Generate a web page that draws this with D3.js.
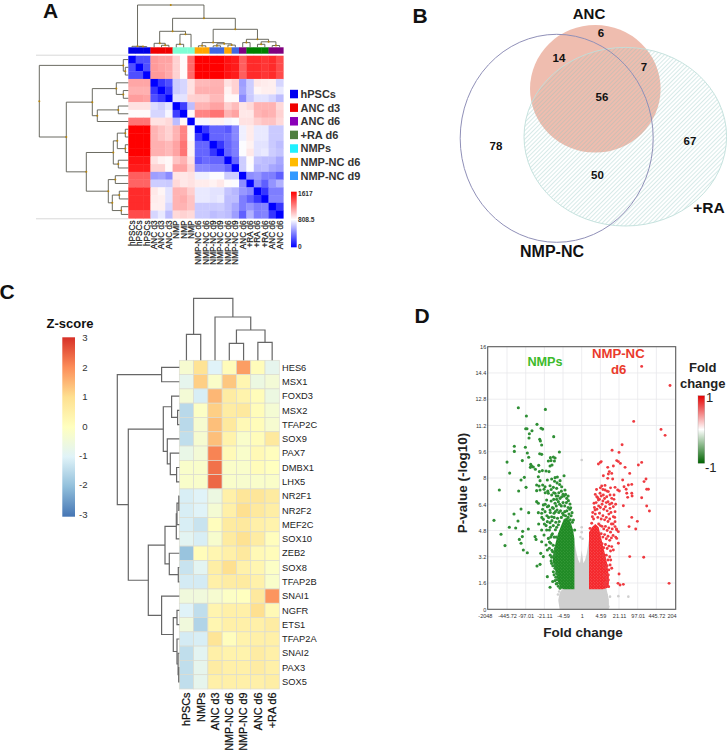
<!DOCTYPE html>
<html><head><meta charset="utf-8">
<script src="https://cdn.jsdelivr.net/npm/d3@7"></script>
<style>
html,body{margin:0;padding:0;background:#fff}
svg{display:block;font-family:"Liberation Sans",Arial,sans-serif}
</style></head><body><div id="c"></div>
<script>
// ---------- Panel A data ----------
const aLabels=["hPSCs","hPSCs","hPSCs","ANC d3","ANC d3","ANC d3","NMP","NMP","NMP","NMP-NC d6","NMP-NC d6","NMP-NC d9","NMP-NC d9","NMP-NC d6","NMP-NC d9","ANC d6","+RA d6","+RA d6","+RA d6","ANC d6","ANC d6"];
const aGroupOfCol=["hPSCs","hPSCs","hPSCs","ANC d3","ANC d3","ANC d3","NMP","NMP","NMP","oNC","oNC","bNC","bNC","oNC","bNC","A6","RA","RA","RA","A6","A6"];
const aBarColors={hPSCs:"#0000e6","ANC d3":"#f00000",NMP:"#7fffd4",oNC:"#ffa500",bNC:"#4169e1",A6:"#800080",RA:"#008000"};
const aMatrix=[
[0,250,250,1130,1100,1100,950,820,1280,1617,1617,1617,1617,1560,1530,1320,1480,1480,1450,1480,1380],
[250,0,250,1130,1100,1080,950,820,1280,1617,1617,1617,1617,1560,1530,1320,1480,1480,1450,1480,1380],
[250,250,0,1130,1130,1080,950,820,1280,1617,1617,1617,1617,1560,1530,1320,1480,1480,1450,1480,1380],
[1090,1090,1090,0,170,250,650,680,900,1030,1030,1050,1050,900,950,500,650,880,870,860,680],
[1060,1060,1060,170,0,170,650,680,900,1060,1060,1060,1060,850,950,520,650,840,860,860,740],
[1120,1120,1100,250,170,0,720,720,950,960,960,1030,1030,830,830,440,640,720,720,680,600],
[900,900,900,700,660,730,0,200,600,1050,1050,1100,1100,960,1020,890,930,1050,1050,1050,930],
[820,820,820,680,680,780,200,0,830,1200,1200,1250,1250,1050,1100,880,880,1040,1070,1050,950],
[1250,1250,1250,900,900,930,600,830,0,780,780,850,850,780,800,900,900,960,1000,1000,930],
[1617,1617,1617,1050,1000,950,1050,1200,800,0,170,320,320,280,430,760,870,740,740,640,640],
[1617,1617,1617,1050,1000,950,1050,1200,800,170,0,320,320,340,430,760,870,740,740,640,640],
[1617,1617,1617,1060,1060,1030,1100,1250,850,320,320,0,170,320,400,800,850,720,720,640,600],
[1617,1617,1617,1060,1060,1030,1100,1250,850,320,320,170,0,320,400,800,880,720,740,650,620],
[1560,1560,1560,900,850,830,1000,1050,900,280,340,320,320,0,320,650,820,620,600,600,530],
[1530,1530,1530,950,950,830,1100,1100,950,430,430,400,400,320,0,650,800,580,600,530,500],
[1320,1320,1320,500,520,440,890,880,900,760,760,800,800,650,650,0,450,480,400,400,300],
[1300,1300,1300,650,650,640,930,880,900,870,870,850,880,820,800,450,0,430,300,470,560],
[1480,1480,1480,880,840,720,1050,1040,960,740,740,720,720,620,580,480,430,0,170,400,400],
[1480,1480,1480,870,860,720,1050,1070,1000,740,740,720,740,600,600,400,300,170,0,420,420],
[1480,1480,1480,860,860,680,1050,1050,1000,640,640,640,650,600,530,400,470,400,420,0,170],
[1380,1380,1380,680,740,600,930,950,930,640,640,600,620,600,500,300,560,400,420,170,0]];
// dendrograms: [mergeHeight, childA, childB]; integers are leaf indices
const aTopTree=[42.3,[1,0,[.7,1,2]],[29,[16,[4,3,[2,4,5]],[13,[3,6,7],8]],[18,[4.7,[1.5,9,10],[3.5,[1.5,11,12],[2.2,13,14]]],[8,[4.7,15,16],[5.5,[3,17,18],[1.8,19,20]]]]]];
const aLeftTree=[89,[5,0,[3,1,2]],[62,[36,[12,3,[5,4,5]],[31,[10,6,7],8]],[42,[15,[11,[3,9,10],[3,11,12]],[10,13,14]],[20,[13,15,16],[16,[9,17,18],[7,19,20]]]]]];
const aLegendNames=["hPSCs","ANC d3","ANC d6","+RA d6","NMPs","NMP-NC d6","NMP-NC d9"];
const aLegendColors=["#0000f0","#f00000","#8a00b8","#4f7f3f","#1ff0ff","#ffbb00","#3399ff"];
const aScaleTicks=[1617,808.5,0];

// ---------- Panel B data ----------
const vennNames=["ANC","+RA","NMP-NC"];
const vennCounts=["6","14","7","56","78","67","50"];

// ---------- Panel C data ----------
const cCols=["hPSCs","NMPs","ANC d3","NMP-NC d6","NMP-NC d9","ANC d6","+RA d6"];
const cRows=["HES6","MSX1","FOXD3","MSX2","TFAP2C","SOX9","PAX7","DMBX1","LHX5","NR2F1","NR2F2","MEF2C","SOX10","ZEB2","SOX8","TFAP2B","SNAI1","NGFR","ETS1","TFAP2A","SNAI2","PAX3","SOX5"];
const cValues=[
[-.3,.9,-1,.1,1.8,.1,-.8],
[-.8,1.2,-.15,1.3,.3,-.6,-.4],
[-.4,-1.1,1.5,.6,.4,.1,-.6],
[-1.5,-.1,1.2,.6,.7,.1,-.35],
[-1.5,-.3,1.4,.7,.2,.1,-.3],
[-1.4,-.3,1.4,.4,-.2,.1,.7],
[-.7,-.4,2.1,.15,-.2,.2,.05],
[-.2,-.2,2.3,-.15,-.2,.1,0],
[-.2,-.2,2.4,-.2,-.25,-.2,-.15],
[-1.1,-1,-.6,.5,.8,.8,.65],
[-1.1,-1,-.35,.5,1,.7,.55],
[-1.1,-1.3,.05,.65,.7,.5,.4],
[-.9,-1.1,-.25,.65,.95,.6,.05],
[-1.9,.1,.3,.5,.7,.2,.1],
[-1.3,-.9,.55,1,.45,.3,-.1],
[-1.15,-1.15,.5,.6,.65,.45,-.2],
[-.5,-.5,-.3,-.1,0,.7,1.9],
[-1,-1.4,.35,.5,.5,1,.2],
[-.5,-1.6,.3,.5,.5,.5,.6],
[-1.15,-1.1,.85,.05,.4,.5,.5],
[-1.4,-.9,.5,.4,.4,.6,.5],
[-1.4,-.8,.6,.5,.5,.6,.5],
[-1.4,-.8,.5,.5,.5,.5,.55]];
const cTopTree=[62,[26,0,1],[43.3,2,[30.3,[17,3,4],[18,5,6]]]];
const cLeftTree=[62,[17.7,0,1],[51,[16,[7.7,2,[1.7,3,4]],[12,5,[9,6,[2.7,7,8]]]],[31,[14.3,[3,[2.3,[.5,9,10],11],12],[10,13,[1,14,15]]],[17.7,16,[6,[2.3,17,18],[2.3,19,[1.2,20,[.6,21,22]]]]]]]];
const zTicks=[3,2,1,0,-1,-2,-3];
const zColors=["#4575b4","#91bfdb","#e0f3f8","#ffffbf","#fee090","#fc8d59","#d73027"];

// ---------- Panel D data: [log2 fold change, -log10 p] ----------
const fcTickValues=[-11,-8.8,-6.6,-4.4,-2.2,0,2.2,4.4,6.6,8.8,11];
const fcTickLabels=["-2048","-445.72","-97.01","-21.11","-4.59","1","4.59","21.11","97.01","445.72","204"];
const pTicks=[0,1.6,3.2,4.8,6.4,8,9.6,11.2,12.8,14.4,16];
const greenPoints=[[-7.47,12.28],[-4.28,12.18],[-6.52,11.78],[-5.27,11.27],[-4.79,11.03],[-4.6,10.98],[-6.6,11],[-6.45,11],[-5.86,10.88],[-6.17,10.7],[-4.95,10.36],[-4.87,10.25],[-3.3,10.52],[-6.21,10.44],[-7.94,9.93],[-7.94,9.62],[-6.64,9.87],[-6.41,9.52],[-4.72,10.01],[-2.63,9.58],[-4.95,9.48],[-4.72,9.44],[-6.25,9.26],[-7,9.06],[-8.8,8.97],[-8.49,8.3],[-3.69,9.24],[-3.34,9.28],[-3.14,9.22],[-3.62,9.06],[-3.22,9.04],[-3.93,9.04],[-3.5,8.79],[-3.73,8.73],[-6.01,8.83],[-5.9,8.73],[-5.7,8.67],[-5.46,8.53],[-6.05,8.65],[-5.07,8.77],[-4.99,8.39],[-4.64,8.45],[-4.2,8.43],[-3.85,8.39],[-2.08,8.14],[-6.76,8.04],[-7.15,7.88],[-6.56,7.43],[-7.43,7.21],[-9.71,7.27],[-5.11,8.08],[-3.14,8.02],[-2.87,8.06],[-3.54,7.94],[-4.05,7.88],[-2.55,7.84],[-4.91,7.84],[-5.31,7.57],[-5.03,7.51],[-4.6,7.57],[-4.32,7.47],[-5.31,7.23],[-4.91,7.27],[-4.44,7.31],[-3.73,7.53],[-3.34,7.43],[-2.95,7.37],[-2.36,7.47],[-3.93,7.07],[-3.54,6.96],[-3.14,7.07],[-1.97,7.27],[-5.31,6.56],[-5.11,6.46],[-4.13,6.66],[-4.52,6.36],[-7.15,6.11],[-7.98,5.81],[-6.25,5.89],[-5.11,5.89],[-4.72,5.85],[-4.32,5.95],[-4.05,6.25],[-3.73,6.05],[-10.34,5.42],[-7.51,5.38],[-8.53,5],[-7.78,4.95],[-6.29,4.89],[-9.51,4.57],[-6.96,4.75],[-5.07,5.2],[-4.52,5.48],[-4.05,5.34],[-5.5,4.43],[-5.38,4.26],[-4.72,4.83],[-4.44,4.53],[-4.13,4.83],[-3.93,4.32],[-7.35,4.26],[-7,4.43],[-7.15,4.02],[-9.04,3.88],[-6.88,3.61],[-6.41,3.45],[-4.72,4.12],[-4.2,3.92],[-4.83,3.41],[-4.52,3.21],[-4.91,2.74],[-5.27,2.64],[-4.05,3.61],[-4.05,1.99],[-3.73,1.34],[-3.42,1.69],[-3.14,1.75],[-3.54,2.8],[-3.34,2.29],[-3.14,6.46],[-2.95,6.7],[-2.75,6.56],[-2.55,6.76],[-2.36,6.86],[-2.08,6.9],[-1.77,6.76],[-1.57,6.62],[-1.38,6.42],[-1.3,6.19],[-1.14,5.89],[-.98,5.44],[-.83,4.83],[-3.34,6.15],[-3.54,5.64],[-3.73,5.28],[-3.26,5.85],[-3.81,4.83],[-3.54,4.53],[-3.65,4.02],[-3.42,3.51],[-3.81,3.72],[-3.54,3.17],[-3.14,2.7],[-2.95,2.19],[-2.87,1.58],[-2.55,1.28],
[-3.9,6.3],[-3.6,6.6],[-3.3,6.7],[-3,6.3],[-2.8,6.9],[-2.6,6.4],[-2.4,6.3],[-2.2,6.5],[-2,6.3],[-1.8,6.5],[-1.6,6.2],[-1.4,6.1],[-3.7,5.9],[-3.45,6.2],[-3.1,5.95],[-2.9,6.05],[-2.7,5.9],[-2.5,6],[-2.25,5.85],[-2,5.95],[-1.75,6],[-1.5,5.8],[-1.25,5.7],[-3.9,5.6],[-3.5,5.4],[-3.25,5.6],[-3.05,5.3],[-2.85,5.55],[-2.65,5.35],[-2.4,5.6],[-2.15,5.75],[-1.9,5.7],[-1.6,5.6],[-1.35,5.45],[-1.1,5.3],[-4.2,5.1],[-3.7,5],[-3.35,5.1],[-3.1,4.85],[-2.95,5],[-2.75,5.15],[-3.45,4.6],[-3.25,4.4],[-3.65,4.4],[-3,4.4],[-3.8,4.1],[-3.35,3.9],[-3.1,3.7],[-3.5,3.6],[-3.7,3.3],[-3.3,3.25],[-3.15,3.4],[-3.6,2.95],[-3.4,2.65],[-3.15,2.5],[-3.25,2.1],[-3.05,1.95],[-3,1.55],[-2.9,1.8],[-2.75,1.4],[-4.6,6.1],[-4.3,6.4],[-4.1,5.7],[-4.4,5.2],[-4.7,5.6],[-3.3,7.1],[-3,6.9],[-2.7,7.1],[-2.4,7.2],[-2.2,7],[-1.9,7],[-2.9,7.7],[-3.2,7.8],[-2.6,7.6],[-3.6,7.3],[-4,7.2],[-4.3,7.1],[-1.6,6.9]];
const redPoints=[[7.07,14.8],[10.41,13.64],[6.13,11.45],[9.35,10.96],[9.83,10.6],[4.76,10.03],[3.58,9.69],[4.4,9.56],[2.2,8.95],[1.97,8.85],[2.3,9],[4.13,9.06],[4.32,9],[4.56,8.89],[7.07,8.95],[6.68,8.79],[5.11,8.65],[3.73,8.73],[3.07,8.65],[3.26,8.39],[3.54,8.28],[3.14,8.24],[2.55,8.14],[3.07,7.98],[3.65,7.94],[5.66,8.28],[4.83,7.88],[7.58,7.94],[5.5,7.57],[5.9,7.61],[4.99,7.47],[5.24,7.31],[5.9,7.07],[5.94,6.9],[5.31,7.07],[5.42,6.82],[7.07,6.8],[7.66,7.31],[7.86,7.31],[7.35,7.78],[2.36,7.51],[2.75,7.55],[3.93,7.43],[4.24,7.27],[4.44,7.21],[3.81,6.96],[4.91,6.31],[7.66,6.29],[7.98,5.99],[5.9,5.6],[6.56,5.36],[5.58,5.04],[6.37,4.89],[5.66,3.21],[7.31,3.17],[10.3,1.58],[4.4,2.15],[4.28,1.58],[4.52,1.48],[4.91,1.52],[3.18,1.38],[2.75,1.48],[4.13,4.32],[4.32,4.73],[4.13,4.83],[3.93,5.04],[4.32,4.02],[3.73,3.61],[3.54,3.82],[3.42,3],[3.54,2.5],[3.14,2.09],[3.14,1.79],[3.73,5.64],[3.93,5.34],[3.73,6.25],[3.93,5.95],[3.54,6.46],[3.34,6.15],[2.75,7.27],[3.14,7.17],[3.34,6.96],[3.54,6.76],[1.77,6.86],[1.45,6.46],[2.16,7.07],[2.55,6.96],[2.95,6.86],[1.97,6.66],[1.57,6.05],[1.26,5.64],[1.18,5.24],[.98,4.93],
[1.3,5.9],[1.5,6.2],[1.7,6.5],[1.9,6.8],[2.1,6.7],[2.3,6.9],[2.5,6.6],[2.7,6.75],[2.9,6.5],[3.1,6.55],[3.3,6.4],[1.4,5.5],[1.6,5.8],[1.8,6.1],[2,6.3],[2.2,6.2],[2.4,6.4],[2.6,6.1],[2.8,6.25],[3,6],[3.2,5.8],[3.45,5.9],[1.9,5.6],[2.1,5.85],[2.3,5.5],[2.5,5.7],[2.7,5.45],[2.9,5.6],[3.1,5.35],[3.3,5.5],[3.5,5.2],[2,5.2],[2.2,5.1],[2.4,5.05],[2.6,4.9],[2.8,5.05],[3,4.8],[3.2,4.95],[3.4,4.7],[3.6,4.9],[2.3,4.6],[2.5,4.4],[2.7,4.55],[2.9,4.3],[3.1,4.45],[3.3,4.2],[3.5,4.35],[3.7,4.5],[2.4,4],[2.6,3.75],[2.8,3.95],[3,3.7],[3.2,3.85],[3.4,3.55],[2.5,3.3],[2.7,3.1],[2.9,3.3],[3.1,3],[3.3,3.2],[2.6,2.7],[2.8,2.5],[3,2.65],[3.2,2.4],[2.65,2.1],[2.85,1.9],[3.05,1.7],[2.7,1.6],[2.9,1.45],[3.35,2.7],[2.5,7.3],[2.2,7.4],[3,7.2],[3.4,7.4],[1.6,7],[1.75,7.3],[3.8,6.7],[4,6.4],[3.9,5.6],[3.7,5.2],[4.1,4.9],[4,4.4]];
const greyPoints=[[0,9.1],[0,5],[0,4.7],[-.15,4.4],[.1,4.3],[5.5,.77],[2.75,.87],[4.32,.8],[-2.45,.25],[-2.2,.47],[-2.66,1.08],[2.55,1.08],[2.95,.87],[3.14,.16],[3.34,.77],[3,.35],[-2.8,.9],[-2.5,.7]];
// outlines of the solid dense clouds: [log2FC, low, high]
const greenCloud=[[-3.4,2.9,3.2],[-3.1,2.3,4],[-2.8,1.7,4.6],[-2.5,1.3,5],[-2.1,1.22,5.5],[-1.7,1.22,5.6],[-1.3,1.22,5.3],[-1,1.22,4.8],[-.86,1.22,4.3]];
const redCloud=[[.86,1.22,4.7],[1.2,1.22,5],[1.6,1.22,5.2],[2,1.22,5],[2.5,1.22,3.9],[3,1.3,2.8],[3.2,1.4,2]];
const greyCloud=[[-2.75,.5,.6],[-2.6,0,1],[-2.2,0,1.3],[-.9,0,4.2],[-.6,0,3.4],[-.4,0,3],[-.2,0,2.8],[0,0,3.6],[.2,0,2.8],[.4,0,3],[.6,0,3.4],[.9,0,4.4],[2.9,0,1.3],[3.2,0,.6]];

// ---------- drawing ----------
const W=727,H=752;
const svg=d3.select("#c").append("svg").attr("width",W).attr("height",H);
const defs=svg.append("defs");
const FONT_DARK="#111";
function label(t,x,y,size,opts={}){
  return svg.append("text").attr("x",x).attr("y",y).attr("font-size",size)
    .attr("font-weight",opts.w||"bold").attr("text-anchor",opts.a||"middle")
    .attr("fill",opts.f||FONT_DARK).text(t);
}
function vgrad(id,stops){
  const g=defs.append("linearGradient").attr("id",id).attr("x1",0).attr("y1",1).attr("x2",0).attr("y2",0);
  stops.forEach((c,i)=>g.append("stop").attr("offset",i/(stops.length-1)).attr("stop-color",c));
}
// generic dendrogram: leafPos(i) across, hPos(h) along the height axis
function dendro(tree,leafPos,hPos,orient,style){
  const g=svg.append("g").attr("fill","none").attr("stroke",style.color).attr("stroke-width",style.width);
  function walk(n){
    if(typeof n==="number") return {p:leafPos(n),h:hPos(0)};
    const a=walk(n[1]),b=walk(n[2]),h=hPos(n[0]),p=(a.p+b.p)/2;
    const d=d3.path();
    if(orient==="top"){d.moveTo(a.p,a.h);d.lineTo(a.p,h);d.lineTo(b.p,h);d.lineTo(b.p,b.h);}
    else{d.moveTo(a.h,a.p);d.lineTo(h,a.p);d.lineTo(h,b.p);d.lineTo(b.h,b.p);}
    g.append("path").attr("d",d.toString());
    if(style.marker){
      const cx=orient==="top"?p:h,cy=orient==="top"?h:p;
      svg.append("circle").attr("class","node").attr("cx",cx).attr("cy",cy).attr("r",1).attr("fill",style.marker);
    }
    return {p,h};
  }
  walk(tree);
}

// === Panel letters
label("A",50.5,17.5,21);label("B",420,23,21);label("C",7,299,21);label("D",422,323,21);

// === Panel A
const ax=d3.scaleBand().domain(d3.range(21)).range([128.3,283.3]);
const ay=d3.scaleBand().domain(d3.range(21)).range([55.7,218.3]);
const aColor=d3.scaleLinear().domain([0,808.5,1617]).range(["#0000ff","#ffffff","#ff0000"]);
svg.append("g").selectAll("rect").data(aMatrix.flatMap((r,i)=>r.map((v,j)=>({i,j,v})))).join("rect")
  .attr("x",d=>ax(d.j)).attr("y",d=>ay(d.i)).attr("width",ax.bandwidth()+.3).attr("height",ay.bandwidth()+.3)
  .attr("fill",d=>aColor(d.v));
svg.append("g").selectAll("rect").data(aGroupOfCol).join("rect")
  .attr("x",(d,i)=>ax(i)).attr("y",47.3).attr("width",ax.bandwidth()+.3).attr("height",6.4)
  .attr("fill",d=>aBarColors[d]);
[ay(0)-.5,ay(20)+ay.bandwidth()+.5].forEach(y=>svg.append("line").attr("x1",36).attr("x2",128.3).attr("y1",y).attr("y2",y).attr("stroke","#d4d4d4").attr("stroke-width",.9));
const aStyle={color:"#5a5a50",width:.9,marker:"#b8860b"};
dendro(aTopTree,i=>ax(i)+ax.bandwidth()/2,d3.scaleLinear().domain([0,42.3]).range([47.3,5]),"top",aStyle);
dendro(aLeftTree,i=>ay(i)+ay.bandwidth()/2,d3.scaleLinear().domain([0,89]).range([128.3,39.3]),"left",aStyle);
svg.append("g").selectAll("text").data(aLabels).join("text")
  .attr("transform",(d,i)=>`translate(${ax(i)+ax.bandwidth()/2+2.9},220.5) rotate(-90)`)
  .attr("text-anchor","end").attr("font-size",8.2).attr("fill","#1a1a1a").attr("stroke","#1a1a1a").attr("stroke-width",.2).text(d=>d);
const legY=d3.scalePoint().domain(aLegendNames).range([94,175.7]);
aLegendNames.forEach((n,i)=>{
  svg.append("rect").attr("x",290).attr("y",legY(n)-4.2).attr("width",8).attr("height",8.5).attr("fill",aLegendColors[i]);
  label(n,300.5,legY(n)+4,11,{a:"start",f:"#333"});
});
vgrad("aBar",["#0000ff","#ffffff","#ff0000"]);
svg.append("rect").attr("x",291).attr("y",191.7).attr("width",5.7).attr("height",55.6).attr("fill","url(#aBar)");
const aBarY=d3.scaleLinear().domain([0,1617]).range([246.3,193.7]);
aScaleTicks.forEach(t=>label(t,298,aBarY(t)+2.4,6.6,{a:"start",f:"#333"}));

// === Panel B
const ePos={ANC:[595.3,88.8,65.3,63.8],"+RA":[625.3,136.7,101.3,89.3],"NMP-NC":[556.7,138.3,96.5,104]};
const hatch=defs.append("pattern").attr("id","hatch").attr("patternUnits","userSpaceOnUse").attr("width",3).attr("height",3).attr("patternTransform","rotate(-45)");
hatch.append("line").attr("x1",0).attr("x2",3).attr("y1",1.5).attr("y2",1.5).attr("stroke","#8cc4bd").attr("stroke-opacity",.5).attr("stroke-width",.7);
function ellipse(n){const e=ePos[n];return svg.append("ellipse").attr("cx",e[0]).attr("cy",e[1]).attr("rx",e[2]).attr("ry",e[3]);}
ellipse("ANC").attr("fill","#efbdaf");
ellipse("+RA").attr("fill","url(#hatch)").attr("stroke","#bfdfda").attr("stroke-width",.9);
ellipse("NMP-NC").attr("fill","none").attr("stroke","#9090b8").attr("stroke-width",1);
const vennNamePos=[[589,18.5,15],[709,212.5,15.5],[552,256.5,16]];
vennNames.forEach((n,i)=>label(n,vennNamePos[i][0],vennNamePos[i][1],vennNamePos[i][2]));
const vennCountPos=[[601,33],[559,58],[644,67],[602,97],[496,146],[690,141],[597.5,175]];
vennCounts.forEach((n,i)=>label(n,vennCountPos[i][0],vennCountPos[i][1]+4,11.5));

// === Panel C
const cx=d3.scaleBand().domain(d3.range(7)).range([179.3,279.3]);
const cy=d3.scaleBand().domain(d3.range(23)).range([360.3,689]);
const zColor=d3.scaleLinear().domain(zTicks.slice().reverse()).range(zColors);
svg.append("g").selectAll("rect").data(cValues.flatMap((r,i)=>r.map((v,j)=>({i,j,v})))).join("rect")
  .attr("x",d=>cx(d.j)).attr("y",d=>cy(d.i)).attr("width",cx.bandwidth()).attr("height",cy.bandwidth())
  .attr("fill",d=>zColor(d.v)).attr("stroke","#dcdcd0").attr("stroke-width",.7);
const cStyle={color:"#666",width:1.2};
dendro(cTopTree,i=>cx(i)+cx.bandwidth()/2,d3.scaleLinear().domain([0,62]).range([360.3,298.3]),"top",cStyle);
dendro(cLeftTree,i=>cy(i)+cy.bandwidth()/2,d3.scaleLinear().domain([0,62]).range([179.3,117.3]),"left",cStyle);
svg.append("g").selectAll("text").data(cRows).join("text").attr("x",282).attr("y",(d,i)=>cy(i)+cy.bandwidth()/2+3.2)
  .attr("font-size",9.3).attr("fill","#222").text(d=>d);
svg.append("g").selectAll("text").data(cCols).join("text")
  .attr("transform",(d,i)=>`translate(${cx(i)+cx.bandwidth()/2+3.8},692.5) rotate(-90)`)
  .attr("text-anchor","end").attr("font-size",10.8).attr("fill","#111").attr("stroke","#111").attr("stroke-width",.25).text(d=>d);
vgrad("zBar",zColors);
svg.append("rect").attr("x",62.3).attr("y",337.3).attr("width",12.7).attr("height",179.4).attr("fill","url(#zBar)");
const zY=d3.scaleLinear().domain([3,-3]).range([338,514.5]);
zTicks.forEach(t=>label(t,87.5,zY(t)+3.4,9.6,{a:"end",w:"normal",f:"#333"}));
label("Z-score",70,327.8,13);

// === Panel D
const vx=d3.scaleLinear().domain([-11.08,11.08]).range([487.7,675.7]);
const vy=d3.scaleLinear().domain([0,16]).range([609.3,346.7]);
const gGrid=svg.append("g").attr("stroke","#e9e9ec").attr("stroke-width",.8);
fcTickValues.slice(1,-1).forEach(t=>gGrid.append("line").attr("x1",vx(t)).attr("x2",vx(t)).attr("y1",vy(16)).attr("y2",vy(0)));
pTicks.slice(1,-1).forEach(t=>gGrid.append("line").attr("y1",vy(t)).attr("y2",vy(t)).attr("x1",vx.range()[0]).attr("x2",vx.range()[1]));
function cloud(data,fill){
  svg.append("path").datum(data).attr("fill",fill)
    .attr("d",d3.area().x(d=>vx(d[0])).y0(d=>vy(d[1])).y1(d=>vy(d[2])).curve(d3.curveLinear));
}
function dots(data,fill,r,stroke){
  svg.append("g").selectAll("circle").data(data).join("circle").attr("cx",d=>vx(d[0])).attr("cy",d=>vy(d[1])).attr("r",r).attr("fill",fill).attr("stroke",stroke||"none").attr("stroke-width",.3);
}
function speck(id,base,dot){
  const p=defs.append("pattern").attr("id",id).attr("patternUnits","userSpaceOnUse").attr("width",3).attr("height",3);
  p.append("rect").attr("width",3).attr("height",3).attr("fill",base);
  p.append("circle").attr("cx",.8).attr("cy",.8).attr("r",.55).attr("fill",dot);
  p.append("circle").attr("cx",2.3).attr("cy",2.2).attr("r",.45).attr("fill",dot);
}
speck("gSpeck","#1f8a24","#4aa54c");speck("rSpeck","#f5262b","#fb6a6a");
cloud(greyCloud,"#cfcfcf");
dots(greyPoints,"#cfcfcf",1.3);
cloud(greenCloud,"url(#gSpeck)");
dots(greenPoints,"#2f8f35",1.55);
cloud(redCloud,"url(#rSpeck)");
dots(redPoints,"#ef3a40",1.45);
const axisBottom=d3.axisBottom(vx).tickValues(fcTickValues).tickSize(0).tickFormat((d,i)=>fcTickLabels[i]);
const gx=svg.append("g").attr("transform",`translate(0,${vy(0)})`).call(axisBottom);
gx.selectAll("text").attr("font-size",5.5).attr("fill","#333").attr("dy",".95em");
gx.selectAll("text").filter((d,i)=>i===10).attr("text-anchor","middle").attr("x",-3.5);
gx.selectAll("text").filter((d,i)=>i===0).attr("x",-3.5);
gx.select(".domain").remove();
const gy=svg.append("g").attr("transform",`translate(${vx.range()[0]},0)`).call(d3.axisLeft(vy).tickValues(pTicks).tickSize(0).tickFormat(d=>d));
gy.selectAll("text").attr("font-size",5.5).attr("fill","#333").attr("x",-1.5);
gy.select(".domain").remove();
svg.append("rect").attr("x",487.7).attr("y",346.7).attr("width",188).attr("height",262.6).attr("fill","none").attr("stroke","#5a5a5a").attr("stroke-width",1.1);
svg.append("text").attr("transform","translate(467,483) rotate(-90)").attr("text-anchor","middle").attr("font-size",13.5).attr("font-weight","bold").attr("fill","#222").text("P-value (-log10)");
label("Fold change",583,637,13.5,{f:"#222"});
label("NMPs",545,366.3,12.7,{f:"#3dbb2b"});
label("NMP-NC",618.3,358,13.2,{f:"#ea3b2c"});
label("d6",618.7,374,13.2,{f:"#ea3b2c"});
label("Fold",702.7,371.5,13,{f:"#222"});
label("change",702.7,387.5,13,{f:"#222"});
vgrad("fcBar",["#006400","#ffffff","#e60000"]);
svg.append("rect").attr("x",698).attr("y",395.7).attr("width",6.7).attr("height",67.6).attr("fill","url(#fcBar)").attr("stroke","#888").attr("stroke-width",.3);
label("1",706,402,13,{a:"start",w:"normal",f:"#222"});
label("-1",705,472,13,{a:"start",w:"normal",f:"#222"});
</script></body></html>
